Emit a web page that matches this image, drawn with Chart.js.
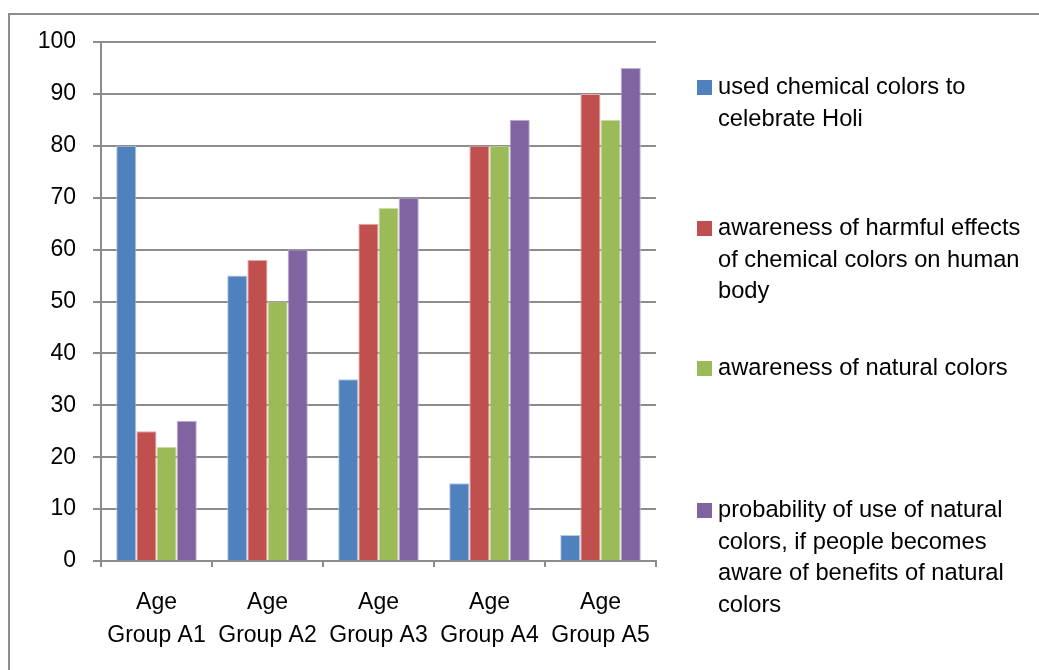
<!DOCTYPE html>
<html>
<head>
<meta charset="utf-8">
<script src="https://cdn.jsdelivr.net/npm/chart.js@4/dist/chart.umd.min.js"></script>
<style>
    html, body { margin: 0; padding: 0; background: #fff; overflow: hidden; }
    #frame {
        position: absolute; left: 8px; top: 13px;
        width: 2000px; height: 2000px;
        border: 2px solid #8c8c8c;
    }
    #wrap { position: absolute; left: 0; top: 0; width: 1039px; height: 670px; }
</style>
</head>
<body>
<div id="frame"></div>
<div id="wrap"><canvas id="chart" width="1039" height="670"></canvas></div>
<script>
// data
var categories = [["Age", "Group A1"], ["Age", "Group A2"], ["Age", "Group A3"], ["Age", "Group A4"], ["Age", "Group A5"]];
var usedChemical = [80, 55, 35, 15, 5];
var awareHarmful = [25, 58, 65, 80, 90];
var awareNatural = [22, 50, 68, 80, 85];
var probNatural = [27, 60, 70, 85, 95];

var seriesNames = [
    ["used chemical colors to", "celebrate Holi"],
    ["awareness of harmful effects", "of chemical colors on human", "body"],
    ["awareness of natural colors"],
    ["probability of use of natural", "colors, if people becomes", "aware of benefits of natural", "colors"]
];
var seriesColors = ["#4f81bd", "#c0504d", "#9bbb59", "#8064a2"];
var seriesEdges = ["#b8c9e2", "#e0a9a7", "#cddca9", "#bfb0d2"];

var FONT = "Liberation Sans";
var gridGray = "#8c8c8c";

// legend drawn by hand so the wrapped labels sit like the original
var sideLegend = {
    id: "sideLegend",
    afterDraw: function (chart) {
        var ctx = chart.ctx;
        var baselines = [94, 235, 375, 517];
        var lineH = 31.6;
        ctx.save();
        ctx.font = "23.7px '" + FONT + "'";
        ctx.textBaseline = "alphabetic";
        ctx.textAlign = "left";
        seriesNames.forEach(function (lines, i) {
            var y0 = baselines[i];
            ctx.fillStyle = seriesColors[i];
            ctx.fillRect(697, y0 - 14, 15, 15);
            ctx.fillStyle = "#000";
            lines.forEach(function (t, k) {
                ctx.fillText(t, 718, y0 + k * lineH);
            });
        });
        ctx.restore();
    }
};

var datasets = [usedChemical, awareHarmful, awareNatural, probNatural].map(function (vals, i) {
    return {
        label: seriesNames[i].join(" "),
        data: vals,
        backgroundColor: seriesColors[i],
        borderColor: seriesEdges[i],
        borderWidth: 1,
        barPercentage: 1,
        categoryPercentage: 0.726
    };
});

new Chart(document.getElementById("chart"), {
    type: "bar",
    data: { labels: categories, datasets: datasets },
    options: {
        responsive: false,
        animation: false,
        layout: { padding: { left: 0, top: 42, right: 383, bottom: 0 } },
        plugins: {
            legend: { display: false },
            tooltip: { enabled: false }
        },
        scales: {
            x: {
                grid: {
                    offset: true,
                    drawOnChartArea: false,
                    drawTicks: true,
                    tickLength: 6,
                    color: gridGray,
                    lineWidth: 2
                },
                border: { color: gridGray, width: 2 },
                ticks: {
                    color: "#000",
                    padding: 19,
                    maxRotation: 0,
                    autoSkip: false,
                    font: { family: FONT, size: 23, lineHeight: 1.43 }
                },
                afterFit: function (scale) { scale.height = 109; }
            },
            y: {
                min: 0,
                max: 100,
                ticks: {
                    stepSize: 10,
                    color: "#000",
                    padding: 17,
                    font: { family: FONT, size: 23 }
                },
                grid: {
                    color: gridGray,
                    lineWidth: 2,
                    tickLength: 8
                },
                border: { color: gridGray, width: 2 },
                afterFit: function (scale) { scale.width = 101; }
            }
        }
    },
    plugins: [sideLegend]
});
</script>
</body>
</html>
